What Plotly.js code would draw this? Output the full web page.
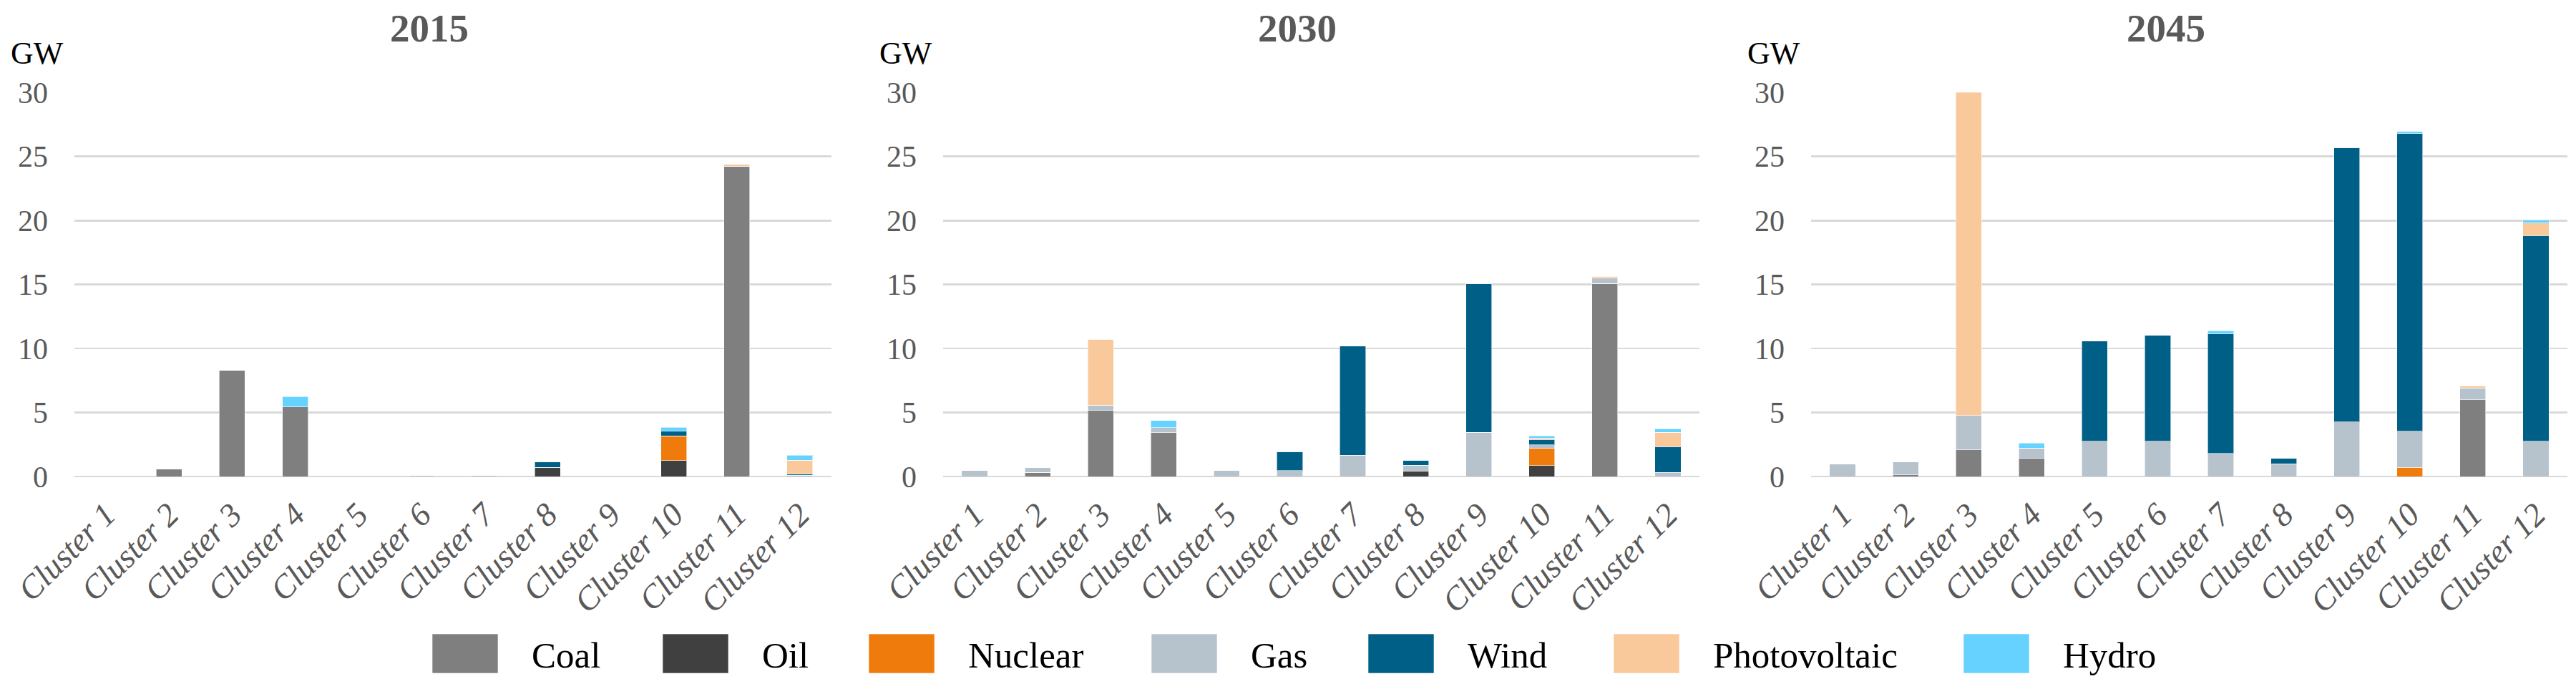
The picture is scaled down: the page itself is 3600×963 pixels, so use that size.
<!DOCTYPE html>
<html>
<head>
<meta charset="utf-8">
<script src="https://cdn.plot.ly/plotly-3.0.1.min.js"></script>
<style>html,body{margin:0;padding:0;background:#fff;}#chart{width:3600px;height:963px;}</style>
</head>
<body>
<div id="chart"></div>
<script>
// ---- Data (GW) ----
const clusters = ["Cluster 1","Cluster 2","Cluster 3","Cluster 4","Cluster 5","Cluster 6","Cluster 7","Cluster 8","Cluster 9","Cluster 10","Cluster 11","Cluster 12"];
const years = ["2015","2030","2045"];
const sources = ["Coal","Oil","Nuclear","Gas","Wind","Photovoltaic","Hydro"];
const yTitle = "GW";

const coal2015    = [0, 0.6, 8.3, 5.43, 0, 0, 0, 0, 0, 0, 24.24, 0];
const oil2015     = [0, 0, 0, 0, 0, 0, 0, 0.72, 0, 1.25, 0, 0];
const nuclear2015 = [0, 0, 0, 0, 0, 0, 0, 0, 0, 1.93, 0, 0];
const gas2015     = [0, 0, 0, 0, 0, 0.1, 0.1, 0, 0, 0, 0, 0.1];
const wind2015    = [0, 0, 0, 0, 0, 0, 0, 0.43, 0, 0.36, 0, 0.1];
const pv2015      = [0, 0, 0, 0, 0, 0, 0, 0, 0, 0, 0.14, 1.07];
const hydro2015   = [0, 0, 0, 0.83, 0, 0, 0, 0, 0, 0.3, 0, 0.4];

const coal2030    = [0, 0.32, 5.17, 3.42, 0, 0, 0, 0, 0, 0, 15.07, 0];
const oil2030     = [0, 0, 0, 0, 0, 0, 0, 0.42, 0, 0.85, 0, 0];
const nuclear2030 = [0, 0, 0, 0, 0, 0, 0, 0, 0, 1.34, 0, 0];
const gas2030     = [0.46, 0.4, 0.4, 0.4, 0.46, 0.46, 1.67, 0.45, 3.44, 0.28, 0.42, 0.32];
const wind2030    = [0, 0, 0, 0, 0, 1.47, 8.51, 0.4, 11.63, 0.41, 0, 2.01];
const pv2030      = [0, 0, 5.15, 0, 0, 0, 0, 0, 0, 0.12, 0.14, 1.11];
const hydro2030   = [0, 0, 0, 0.55, 0, 0, 0, 0, 0, 0.18, 0, 0.28];

const coal2045    = [0, 0.14, 2.07, 1.41, 0, 0, 0, 0, 0, 0, 6.0, 0];
const oil2045     = [0, 0, 0, 0, 0, 0, 0, 0, 0, 0, 0, 0];
const nuclear2045 = [0, 0, 0, 0, 0, 0, 0, 0, 0, 0.72, 0, 0];
const gas2045     = [0.99, 0.99, 2.7, 0.8, 2.76, 2.76, 1.81, 0.99, 4.25, 2.82, 0.92, 2.76];
const wind2045    = [0, 0, 0, 0, 7.82, 8.27, 9.32, 0.44, 21.46, 23.25, 0, 16.06];
const pv2045      = [0, 0, 25.3, 0, 0, 0, 0, 0, 0, 0, 0.18, 0.97];
const hydro2045   = [0, 0, 0, 0.41, 0, 0, 0.26, 0, 0, 0.17, 0, 0.26];

// ---- Styles ----
const colors = ["#7f7f7f","#404040","#ee7b0c","#b7c3cc","#005f87","#f9c89b","#66d2ff"];
const seriesByYear = [
  [coal2015, oil2015, nuclear2015, gas2015, wind2015, pv2015, hydro2015],
  [coal2030, oil2030, nuclear2030, gas2030, wind2030, pv2030, hydro2030],
  [coal2045, oil2045, nuclear2045, gas2045, wind2045, pv2045, hydro2045]
];
const FONT = "'Palatino Linotype','Book Antiqua',Palatino,'Liberation Serif',serif";
const domainsX = [[0.02889, 0.32278], [0.36611, 0.65972], [0.70306, 0.99667]];
const domainY = [0.3084, 0.8657];

const traces = [];
seriesByYear.forEach((series, yi) => {
  const sfx = yi === 0 ? "" : String(yi + 1);
  series.forEach((vals, si) => {
    traces.push({
      type: "bar",
      name: sources[si],
      x: clusters,
      y: vals,
      xaxis: "x" + sfx,
      yaxis: "y" + sfx,
      marker: {color: colors[si], line: {color: "rgba(255,255,255,0.6)", width: 1}},
      showlegend: false,
      hoverinfo: "x+y+name"
    });
  });
});

const layout = {
  width: 3600, height: 963,
  margin: {l: 0, r: 0, t: 0, b: 0},
  paper_bgcolor: "#ffffff", plot_bgcolor: "#ffffff",
  barmode: "stack", bargap: 0.59,
  font: {family: FONT, color: "#595959"},
  showlegend: false,
  annotations: [],
  shapes: []
};

years.forEach((yr, i) => {
  const sfx = i === 0 ? "" : String(i + 1);
  layout["xaxis" + sfx] = {
    domain: domainsX[i], anchor: "y" + sfx, type: "category",
    tickangle: -45, showgrid: false, showline: false, zeroline: false, ticks: "",
    tickfont: {family: FONT, size: 46, color: "#595959", style: "italic"},
    ticklabelstandoff: 16, automargin: false, fixedrange: true
  };
  layout["yaxis" + sfx] = {
    domain: domainY, anchor: "x" + sfx, range: [0, 30], dtick: 5, tick0: 0,
    showgrid: true, gridcolor: "#d9d9d9", gridwidth: 2.7,
    zeroline: true, zerolinecolor: "#d9d9d9", zerolinewidth: 2.7,
    showline: false, ticks: "",
    tickfont: {family: FONT, size: 42, color: "#595959"},
    ticklabelstandoff: 36, automargin: false, fixedrange: true
  };
  // panel title
  layout.annotations.push({
    text: "<b>" + yr + "</b>", xref: "x" + sfx + " domain", yref: "paper",
    x: 0.5, xshift: -33, y: 1 - 40 / 963, xanchor: "center", yanchor: "middle",
    showarrow: false, font: {family: FONT, size: 55, color: "#595959"}
  });
  // unit label
  layout.annotations.push({
    text: yTitle, xref: "x" + sfx + " domain", yref: "paper",
    x: 0, xshift: -91, y: 1 - 74 / 963, xanchor: "left", yanchor: "middle",
    showarrow: false, font: {family: FONT, size: 44, color: "#000000"}
  });
});

// custom legend (large swatches as in the reference)
const legendSwatchLeft = [604, 926, 1214, 1609, 1912, 2255, 2744];
const swW = 92, swTop = 886, swBot = 941;
sources.forEach((name, i) => {
  const x0 = legendSwatchLeft[i];
  layout.shapes.push({
    type: "rect", xref: "paper", yref: "paper",
    x0: x0 / 3600, x1: (x0 + swW) / 3600,
    y0: 1 - swBot / 963, y1: 1 - swTop / 963,
    fillcolor: colors[i], line: {color: "rgba(255,255,255,0.6)", width: 1}
  });
  layout.annotations.push({
    text: name, xref: "paper", yref: "paper",
    x: (x0 + swW + 45) / 3600, y: 1 - 916 / 963,
    xanchor: "left", yanchor: "middle", showarrow: false,
    font: {family: FONT, size: 51, color: "#000000"}
  });
});

Plotly.newPlot("chart", traces, layout, {staticPlot: true, displayModeBar: false});
</script>
</body>
</html>
